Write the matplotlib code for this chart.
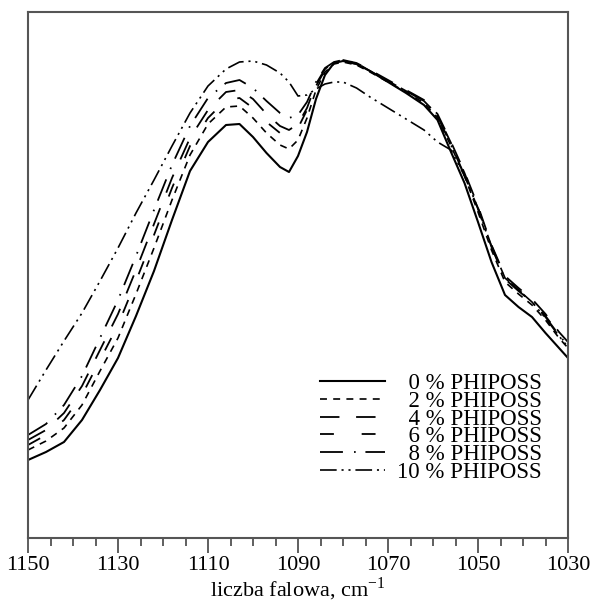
import matplotlib
matplotlib.use("Agg")
import matplotlib.pyplot as plt

plt.rcParams['font.family'] = ['Liberation Serif', 'DejaVu Serif']
plt.rcParams['lines.scale_dashes'] = False

wavenumber = [1150, 1146, 1142, 1138, 1134, 1130, 1126, 1122, 1118, 1114, 1110, 1106, 1103,
              1100, 1097, 1094, 1092, 1090, 1088, 1086, 1084, 1082, 1080, 1077, 1074, 1070,
              1066, 1062, 1059, 1056, 1053, 1050, 1047, 1044, 1041, 1038, 1035, 1032, 1030]

p0 = [78, 86, 96, 118, 148, 180, 222, 267, 318, 367, 396, 413, 414,
      401, 385, 371, 366, 382, 406, 439, 463, 475, 477, 474, 467, 456,
      445, 433, 418, 386, 355, 316, 276, 243, 231, 221, 205, 190, 180]
p2 = [88, 97, 110, 133, 167, 200, 244, 290, 338, 383, 414, 431, 432,
      420, 405, 393, 389, 398, 420, 448, 466, 474, 476, 473, 466, 456,
      446, 435, 420, 392, 362, 326, 288, 256, 244, 233, 218, 200, 190]
p4 = [98, 108, 125, 152, 188, 224, 268, 314, 360, 400, 428, 446, 448,
      439, 424, 412, 408, 414, 430, 454, 469, 476, 478, 475, 468, 458,
      448, 438, 424, 396, 366, 332, 293, 262, 250, 239, 224, 206, 196]
p6 = [93, 103, 118, 143, 178, 213, 257, 303, 350, 392, 420, 438, 440,
      430, 416, 405, 401, 410, 428, 452, 468, 475, 477, 474, 467, 457,
      447, 437, 423, 395, 365, 330, 292, 260, 248, 237, 222, 204, 193]
p8 = [103, 114, 133, 162, 200, 238, 282, 328, 373, 412, 440, 455, 458,
      450, 437, 425, 420, 423, 436, 456, 470, 476, 478, 475, 467, 457,
      447, 437, 422, 393, 363, 329, 291, 259, 247, 236, 221, 203, 192]
p10 = [138, 168, 197, 225, 257, 290, 325, 358, 392, 425, 452, 469, 476,
       477, 473, 465, 456, 442, 443, 449, 454, 456, 456, 450, 441, 430,
       419, 408, 396, 388, 362, 330, 292, 260, 248, 236, 220, 202, 191]

labels = ["\u20070 % PHIPOSS", "\u20072 % PHIPOSS", "\u20074 % PHIPOSS",
          "\u20076 % PHIPOSS", "\u20078 % PHIPOSS", "10 % PHIPOSS"]
series = [p0, p2, p4, p6, p8, p10]
styles = [dict(linestyle='-', lw=1.5),
          dict(linestyle=(0, (5, 4.5)), lw=1.2),
          dict(linestyle=(0, (14, 12)), lw=1.3),
          dict(linestyle=(0, (10, 20)), lw=1.3),
          dict(linestyle=(0, (16.5, 8, 1.2, 7)), lw=1.3),
          dict(linestyle=(0, (12, 3.5, 1.5, 3.5, 1.5, 3.5)), lw=1.2)]

fig = plt.figure(figsize=(5.99, 6.06), dpi=100)
ax = fig.add_axes([28/599, 68/606, 540/599, 526/606])

for y, lab, st in zip(series, labels, styles):
    ax.plot(wavenumber, y, color='black', label=lab, **st)

ax.set_xlim(1150, 1030)
ax.set_ylim(0, 526)
ax.set_yticks([])
ax.set_xticks(range(1150, 1029, -20))
ax.set_xticks(range(1150, 1029, -5), minor=True)
ax.tick_params(axis='x', which='major', direction='out', length=11, width=1.2,
               labelsize=16, pad=2, color='#444444')
ax.tick_params(axis='x', which='minor', direction='out', length=6, width=1.2,
               color='#444444')
for s in ax.spines.values():
    s.set_color('#555555')
    s.set_linewidth(1.5)
ax.set_xlabel("liczba falowa, cm$^{\\mathregular{-1}}$", fontsize=16, labelpad=0)

leg = ax.legend(loc='upper left', bbox_to_anchor=(0.541, 0.314), frameon=False,
                fontsize=16.5, handlelength=2.85, handletextpad=0.5,
                labelspacing=-0.14, borderpad=0, borderaxespad=0)

fig.savefig("out.png", dpi=100)
